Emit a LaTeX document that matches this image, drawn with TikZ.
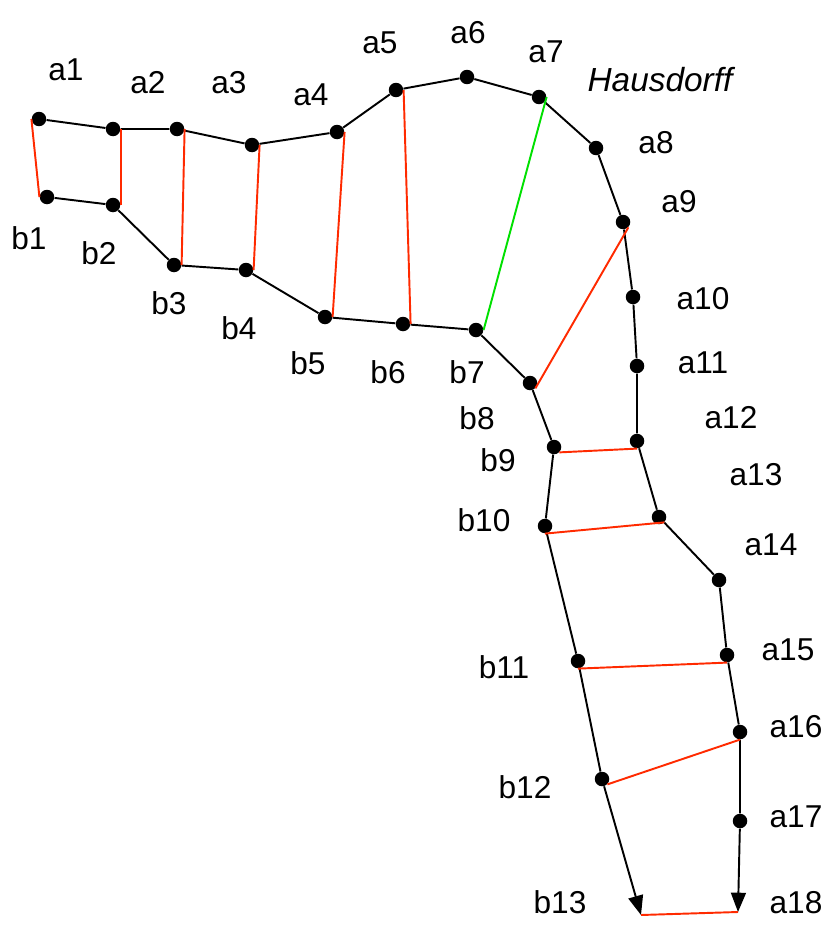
\documentclass[tikz,border=0pt]{standalone}
\usepackage{fontspec}
\setmainfont{Liberation Sans}
\usetikzlibrary{arrows.meta}
\definecolor{match}{HTML}{FF2A00}
\definecolor{haus}{HTML}{00E000}

\begin{document}
\begin{tikzpicture}[x=0.02cm, y=-0.02cm, every node/.style={font=\fontsize{18}{22}\selectfont},
    dot/.style={circle, fill=black, inner sep=0pt, minimum size=0.29cm},
    chain/.style={black, line width=1.1pt},
    pair/.style={match, line width=1.1pt}]
  \useasboundingbox (0,0) rectangle (837,933);
  % upper curve
  \foreach \n/\x/\y in {a1/39/119, a2/113/129, a3/177/129, a3x/252/145, a4/337/132, a5/396/90,
      a6/467/77, a7/539/97, a8/596/148, a9/623/222, a10/633/297, a11/637/366, a12/637/441,
      a13/659/517, a14/719/580, a15/727/655, a16/740/732, a17/740/821}
    \node[dot] (\n) at (\x,\y) {};
  \coordinate (a18) at (738,912);
  % lower curve
  \foreach \n/\x/\y in {b1/47/197, b2/113/205, b3/174/265, b4/246/270, b5/325/317, b6/403/324,
      b7/476/330, b8/530/383, b9/554/447, b10/545/526, b11/578/661, b12/602/779}
    \node[dot] (\n) at (\x,\y) {};
  \coordinate (b13) at (641,915);

  \draw[chain] (a1) -- (a2) -- (a3) -- (a3x) -- (a4) -- (a5) -- (a6) -- (a7) -- (a8) -- (a9)
    -- (a10) -- (a11) -- (a12) -- (a13) -- (a14) -- (a15) -- (a16) -- (a17);
  \draw[chain, -{Triangle[length=11pt,width=8.5pt]}] (a17) -- (a18);
  \draw[chain] (b1) -- (b2) -- (b3) -- (b4) -- (b5) -- (b6) -- (b7) -- (b8) -- (b9) -- (b10)
    -- (b11) -- (b12);
  \draw[chain, -{Triangle[length=11pt,width=8.5pt]}] (b12) -- (b13);

  % matched pairs
  \foreach \p/\q in {a1.west/b1.west, a2.east/b2.east, a3.east/b3.east, a3x.east/b4.east,
      a4.east/b5.east, a5.east/b6.east, a9.south east/b8.south east, a12.south/b9.south east,
      a13.south east/b10.south, a15.south/b11.south, a16.south/b12.south east, a18/b13}
    \draw[pair] (\p) -- (\q);
  \draw[pair, haus] (a7.east) -- (b7.east);

  % labels
  \foreach \l/\x/\y in {a1/66/70, a2/148/83, a3/229/83, a4/311/95, a5/380/43, a6/468/33,
      a7/546/52, a8/656/143, a9/679/202, a10/703/299, a11/703/363, a12/731/418, a13/756/475,
      a14/771/545, a15/788/650, a16/796/727, a17/796/817, a18/796/903}
    \node (l\l) at (\x,\y) {\l};
  \foreach \l/\x/\y in {b1/29/238, b2/99/253, b3/169/303, b4/239/328, b5/308/363, b6/388/372,
      b7/467/372, b8/477/418, b9/498/460, b10/484/520, b11/504/667, b12/525/787, b13/560/902}
    \node (l\l) at (\x,\y) {\l};
  \node[font=\fontsize{19}{23}\selectfont] (lhaus) at (660,80) {\itshape Hausdorff};
\end{tikzpicture}
\end{document}
